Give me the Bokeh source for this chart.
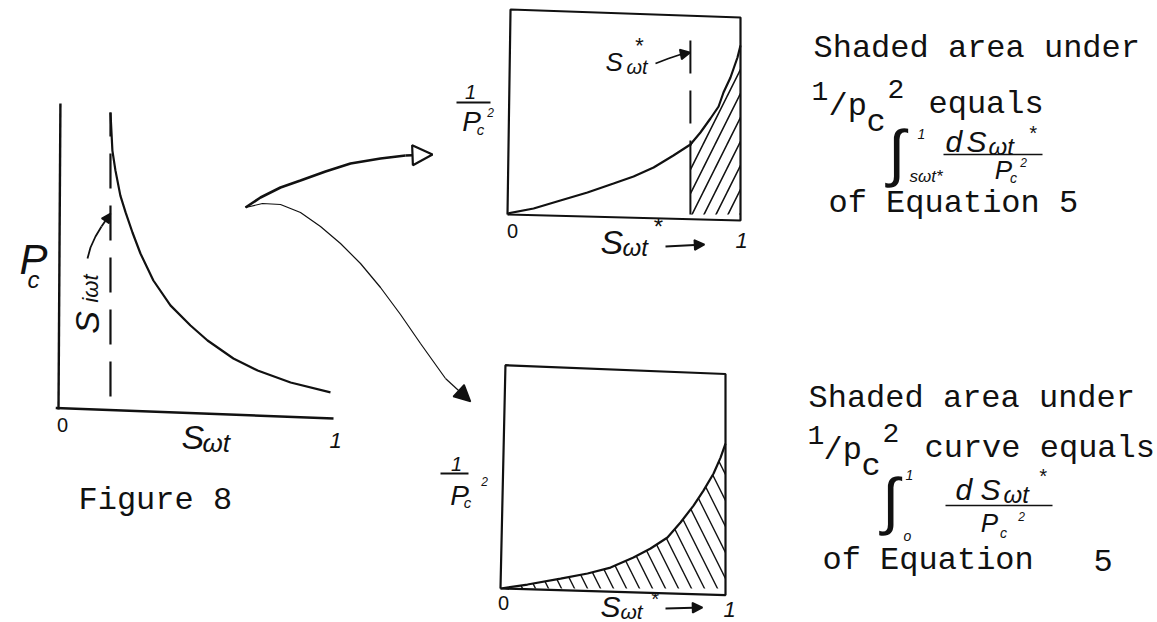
from bokeh.plotting import figure
from bokeh.models import Range1d, Arrow, NormalHead
from bokeh.core.properties import value
from bokeh.embed import file_html
from bokeh.resources import INLINE

W, H = 1157, 622

# ---------------------------------------------------------------- data
# Figure 8: capillary pressure Pc against water saturation Swt (scaled 0..1)
swt = [0.189, 0.196, 0.207, 0.225, 0.244, 0.269, 0.298, 0.345, 0.407,
       0.480, 0.542, 0.636, 0.724, 0.844, 0.989]
pc = [0.990, 0.863, 0.797, 0.713, 0.657, 0.590, 0.520, 0.430, 0.347,
      0.280, 0.230, 0.170, 0.130, 0.090, 0.057]
siwt = 0.189          # irreducible water saturation

# 1/Pc^2 against normalised saturation Swt*, integrated from Swt* to 1
swt_star_a = [0.0, 0.112, 0.227, 0.343, 0.455, 0.541, 0.627, 0.712, 0.785,
              0.828, 0.871, 0.906, 0.927, 0.957, 0.987, 1.0]
inv_pc2_a = [0.005, 0.03, 0.07, 0.11, 0.155, 0.19, 0.235, 0.295, 0.35,
             0.41, 0.48, 0.54, 0.61, 0.685, 0.785, 0.845]
swt_star_cut = 0.785

# 1/Pc^2 against Swt*, integrated from 0 to 1
swt_star_b = [0.0, 0.12, 0.267, 0.387, 0.489, 0.591, 0.667, 0.742, 0.8,
              0.858, 0.902, 0.947, 0.978, 1.0]
inv_pc2_b = [0.0, 0.018, 0.045, 0.068, 0.095, 0.141, 0.182, 0.232, 0.3,
             0.377, 0.445, 0.523, 0.595, 0.659]

# ---------------------------------------------------------------- layout
# each small graph gets its own pair of ranges: origin pixel and pixels per unit
PANELS = {
    "pc":    dict(ox=58,  oy=409, sx=275, sy=300),
    "upper": dict(ox=507, oy=214, sx=233, sy=200),
    "lower": dict(ox=500, oy=588, sx=225, sy=220),
}

INK = "#111111"
MONO = "Liberation Mono"
HAND = "Liberation Sans"

p = figure(width=W, height=H, x_range=Range1d(0, W), y_range=Range1d(H, 0),
           output_backend="svg", toolbar_location=None, min_border=0,
           x_axis_location=None, y_axis_location=None,
           background_fill_color="white", border_fill_color="white")
p.grid.visible = False
p.outline_line_color = None

for name, g in PANELS.items():
    p.extra_x_ranges[name] = Range1d((0 - g["ox"]) / g["sx"], (W - g["ox"]) / g["sx"])
    p.extra_y_ranges[name] = Range1d((g["oy"] - H) / g["sy"], g["oy"] / g["sy"])


def on(name):
    return dict(x_range_name=name, y_range_name=name)


def txt(x, y, s, size, font=HAND, style="italic", align="left", angle=0.0):
    p.text(x=[x], y=[y], text=[s], text_font=value(font),
           text_font_size=f"{size}px", text_font_style=style,
           text_align=align, text_baseline="middle", angle=angle,
           text_color=INK)


def mono(x, y, s, size=32):
    txt(x, y, s, size, font=MONO, style="normal")


def head_arrow(path, size, fill, lw, head_lw=1.5):
    xs = [a for a, _ in path]
    ys = [b for _, b in path]
    if len(path) > 2:
        p.line(xs[:-1], ys[:-1], line_color=INK, line_width=lw)
    p.add_layout(Arrow(x_start=xs[-2], y_start=ys[-2], x_end=xs[-1], y_end=ys[-1],
                       line_color=INK, line_width=lw,
                       end=NormalHead(size=size, fill_color=fill,
                                      line_color=INK, line_width=head_lw)))


# ---------------------------------------------------------------- Figure 8 (Pc vs Swt)
p.line([0, 0.007], [0, 1.02], line_color=INK, line_width=2.4, **on("pc"))
p.line([-0.01, 1.0], [0.005, -0.03], line_color=INK, line_width=2.4, **on("pc"))
p.line([siwt, siwt], [0.043, pc[0]], line_color=INK, line_width=2.2,
       line_dash="35 17", **on("pc"))
p.line(swt, pc, line_color=INK, line_width=2.2, **on("pc"))

txt(19, 259, "P", 42)
txt(27, 279, "c", 24)
txt(86, 322, "S", 34, align="center", angle=1.5708)
txt(90, 288, "iωt", 22, align="center", angle=1.5708)
head_arrow([(87, 258), (90, 247), (95, 236), (101, 226), (110, 213)], 9, INK, 1.8)
txt(62, 424, "0", 20, style="normal", align="center")
txt(181, 436, "S", 34)
txt(202, 442, "ωt", 26)
txt(335, 440, "1", 22, align="center")
mono(78, 500, "Figure 8")

# ---------------------------------------------------------------- connecting arrows
head_arrow([(245, 207), (260, 197), (280, 187), (300, 180), (325, 171),
            (350, 163), (380, 158), (405, 155), (432, 154)], 20, "white", 2.6, 2.2)
head_arrow([(245, 207), (262, 203), (280, 204), (300, 212), (320, 226), (340, 243),
            (360, 263), (380, 287), (400, 314), (420, 343), (445, 378),
            (470, 401)], 16, INK, 1.2)

# ---------------------------------------------------------------- upper 1/Pc^2 graph
p.line([0, 1, 1, 0.013, 0], [0, -0.03, 0.985, 1.025, 0], line_color=INK,
       line_width=2.2, **on("upper"))
hx = [x for x in swt_star_a if x >= swt_star_cut]
hy = [y for x, y in zip(swt_star_a, inv_pc2_a) if x >= swt_star_cut]
p.varea(x=hx, y1=[0] * len(hx), y2=hy, fill_alpha=0, hatch_pattern="/",
        hatch_color=INK, hatch_scale=24, hatch_weight=1.6, **on("upper"))
y_cut = inv_pc2_a[swt_star_a.index(swt_star_cut)]
p.line([swt_star_cut, swt_star_cut], [0, y_cut], line_color=INK,
       line_width=2.0, **on("upper"))
p.line([swt_star_cut, swt_star_cut], [0.87, y_cut], line_color=INK,
       line_width=2.0, line_dash="33 17", **on("upper"))
p.line(swt_star_a, inv_pc2_a, line_color=INK, line_width=2.2, **on("upper"))

txt(470, 91, "1", 20, align="center")
p.line([456, 490], [102, 102], line_color=INK, line_width=2)
txt(471, 121, "P", 28, align="center")
txt(480, 129, "c", 15, align="center")
txt(490, 112, "2", 12, align="center")
txt(512, 230, "0", 20, style="normal", align="center")
txt(600, 241, "S", 34)
txt(622, 247, "ωt", 24)
txt(657, 226, "*", 24, align="center")
head_arrow([(665, 246), (704, 244)], 10, INK, 1.8)
txt(741, 240, "1", 22, align="center")
txt(605, 61, "S", 26)
txt(626, 66, "ωt", 20)
txt(638, 45, "*", 22, align="center")
head_arrow([(655, 63), (668, 58), (680, 54), (690, 52)], 10, INK, 1.8)

# ---------------------------------------------------------------- lower 1/Pc^2 graph
p.line([0, 1, 1, 0.022, 0], [0, -0.03, 0.975, 1.015, 0], line_color=INK,
       line_width=2.2, **on("lower"))
p.varea(x=swt_star_b, y1=[0] * len(swt_star_b), y2=inv_pc2_b, fill_alpha=0,
        hatch_pattern="\\", hatch_color=INK, hatch_scale=26, hatch_weight=1.4,
        **on("lower"))
p.line(swt_star_b, inv_pc2_b, line_color=INK, line_width=2.2, **on("lower"))

txt(456, 463, "1", 20, align="center")
p.line([440, 468], [473, 473], line_color=INK, line_width=2)
txt(459, 495, "P", 28, align="center")
txt(467, 502, "c", 15, align="center")
txt(484, 481, "2", 12, align="center")
txt(503, 602, "0", 20, style="normal", align="center")
txt(600, 606, "S", 30)
txt(620, 611, "ωt", 21)
txt(654, 598, "*", 20, align="center")
head_arrow([(665, 608), (702, 607)], 10, INK, 1.8)
txt(729, 609, "1", 22, align="center")

# ---------------------------------------------------------------- right-hand notes
# upper note: integral from Swt* to 1
mono(813, 48, "Shaded area under")
mono(811, 90, "1", 28)
mono(828, 106, "/p")
mono(866, 122, "c")
mono(887, 88, "2", 28)
mono(928, 104, "equals")
txt(896, 152, "∫", 62, align="center")
txt(921, 133, "1", 14, align="center")
txt(909, 176, "sωt*", 17)
txt(945, 141, "d", 30)
txt(966, 141, "S", 30)
txt(988, 146, "ωt", 24)
txt(1032, 132, "*", 20, align="center")
p.line([943, 1042], [154, 154], line_color=INK, line_width=1.6)
txt(1003, 169, "P", 26, align="center")
txt(1013, 177, "c", 14, align="center")
txt(1023, 162, "2", 12, align="center")
mono(828, 203, "of Equation 5")

# lower note: integral from 0 to 1
mono(808, 398, "Shaded area under")
mono(807, 434, "1", 28)
mono(823, 450, "/p")
mono(861, 466, "c")
mono(882, 432, "2", 28)
mono(924, 448, "curve equals")
txt(890, 500, "∫", 62, align="center")
txt(909, 474, "1", 14, align="center")
txt(907, 535, "o", 14, align="center")
txt(955, 489, "d", 30)
txt(980, 489, "S", 30)
txt(1003, 494, "ωt", 24)
txt(1042, 475, "*", 20, align="center")
p.line([945, 1052], [505, 505], line_color=INK, line_width=1.6)
txt(989, 522, "P", 26, align="center")
txt(1003, 532, "c", 14, align="center")
txt(1021, 516, "2", 12, align="center")
mono(822, 560, "of Equation")
mono(1093, 560, "5")

open("out.html", "w").write(file_html(p, INLINE))
